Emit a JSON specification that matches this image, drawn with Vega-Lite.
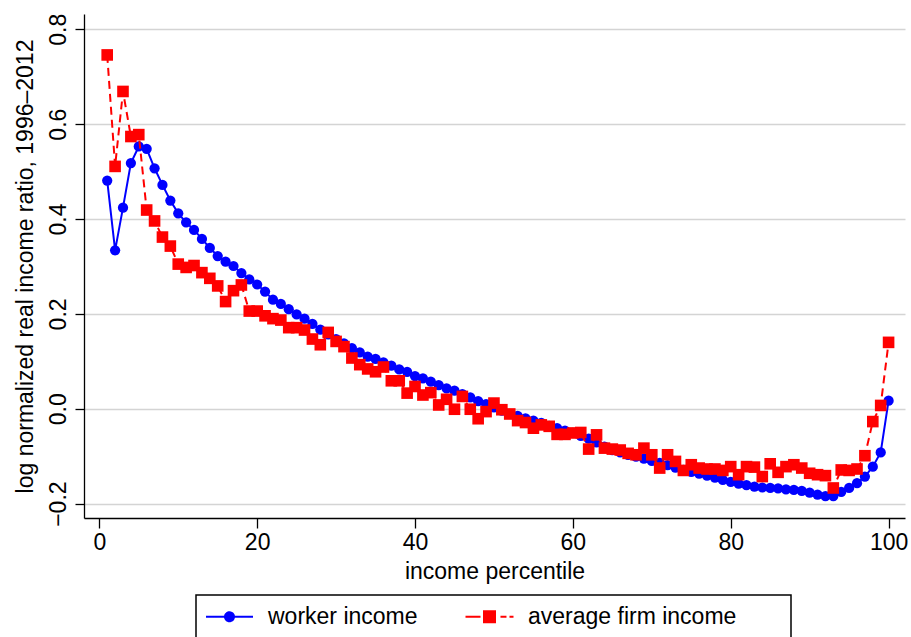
{
  "$schema": "https://vega.github.io/schema/vega-lite/v6.json",
  "width": 821,
  "height": 504,
  "autosize": {"type": "none"},
  "padding": {"left": 84, "top": 14, "right": 6, "bottom": 119},
  "background": "white",
  "config": {
    "font": "Liberation Sans",
    "view": {"stroke": null},
    "axis": {
      "domainColor": "black",
      "domainWidth": 1.3,
      "tickColor": "black",
      "tickWidth": 1.3,
      "labelFont": "Liberation Sans",
      "labelFontSize": 23,
      "labelColor": "black",
      "titleFont": "Liberation Sans",
      "titleFontSize": 23,
      "titleFontWeight": "normal",
      "titleColor": "black"
    }
  },
  "data": {
    "values": [
      {"percentile": 1, "series": "worker income", "value": 0.481},
      {"percentile": 2, "series": "worker income", "value": 0.334},
      {"percentile": 3, "series": "worker income", "value": 0.424},
      {"percentile": 4, "series": "worker income", "value": 0.518},
      {"percentile": 5, "series": "worker income", "value": 0.553},
      {"percentile": 6, "series": "worker income", "value": 0.548},
      {"percentile": 7, "series": "worker income", "value": 0.507},
      {"percentile": 8, "series": "worker income", "value": 0.472},
      {"percentile": 9, "series": "worker income", "value": 0.439},
      {"percentile": 10, "series": "worker income", "value": 0.412},
      {"percentile": 11, "series": "worker income", "value": 0.393},
      {"percentile": 12, "series": "worker income", "value": 0.377},
      {"percentile": 13, "series": "worker income", "value": 0.358},
      {"percentile": 14, "series": "worker income", "value": 0.339},
      {"percentile": 15, "series": "worker income", "value": 0.322},
      {"percentile": 16, "series": "worker income", "value": 0.310},
      {"percentile": 17, "series": "worker income", "value": 0.301},
      {"percentile": 18, "series": "worker income", "value": 0.286},
      {"percentile": 19, "series": "worker income", "value": 0.273},
      {"percentile": 20, "series": "worker income", "value": 0.262},
      {"percentile": 21, "series": "worker income", "value": 0.247},
      {"percentile": 22, "series": "worker income", "value": 0.230},
      {"percentile": 23, "series": "worker income", "value": 0.221},
      {"percentile": 24, "series": "worker income", "value": 0.210},
      {"percentile": 25, "series": "worker income", "value": 0.199},
      {"percentile": 26, "series": "worker income", "value": 0.190},
      {"percentile": 27, "series": "worker income", "value": 0.179},
      {"percentile": 28, "series": "worker income", "value": 0.167},
      {"percentile": 29, "series": "worker income", "value": 0.157},
      {"percentile": 30, "series": "worker income", "value": 0.147},
      {"percentile": 31, "series": "worker income", "value": 0.138},
      {"percentile": 32, "series": "worker income", "value": 0.128},
      {"percentile": 33, "series": "worker income", "value": 0.119},
      {"percentile": 34, "series": "worker income", "value": 0.110},
      {"percentile": 35, "series": "worker income", "value": 0.105},
      {"percentile": 36, "series": "worker income", "value": 0.098},
      {"percentile": 37, "series": "worker income", "value": 0.091},
      {"percentile": 38, "series": "worker income", "value": 0.083},
      {"percentile": 39, "series": "worker income", "value": 0.078},
      {"percentile": 40, "series": "worker income", "value": 0.069},
      {"percentile": 41, "series": "worker income", "value": 0.064},
      {"percentile": 42, "series": "worker income", "value": 0.057},
      {"percentile": 43, "series": "worker income", "value": 0.050},
      {"percentile": 44, "series": "worker income", "value": 0.043},
      {"percentile": 45, "series": "worker income", "value": 0.038},
      {"percentile": 46, "series": "worker income", "value": 0.031},
      {"percentile": 47, "series": "worker income", "value": 0.024},
      {"percentile": 48, "series": "worker income", "value": 0.016},
      {"percentile": 49, "series": "worker income", "value": 0.010},
      {"percentile": 50, "series": "worker income", "value": 0.003},
      {"percentile": 51, "series": "worker income", "value": -0.004},
      {"percentile": 52, "series": "worker income", "value": -0.011},
      {"percentile": 53, "series": "worker income", "value": -0.015},
      {"percentile": 54, "series": "worker income", "value": -0.020},
      {"percentile": 55, "series": "worker income", "value": -0.025},
      {"percentile": 56, "series": "worker income", "value": -0.030},
      {"percentile": 57, "series": "worker income", "value": -0.036},
      {"percentile": 58, "series": "worker income", "value": -0.041},
      {"percentile": 59, "series": "worker income", "value": -0.046},
      {"percentile": 60, "series": "worker income", "value": -0.051},
      {"percentile": 61, "series": "worker income", "value": -0.057},
      {"percentile": 62, "series": "worker income", "value": -0.063},
      {"percentile": 63, "series": "worker income", "value": -0.071},
      {"percentile": 64, "series": "worker income", "value": -0.080},
      {"percentile": 65, "series": "worker income", "value": -0.087},
      {"percentile": 66, "series": "worker income", "value": -0.092},
      {"percentile": 67, "series": "worker income", "value": -0.097},
      {"percentile": 68, "series": "worker income", "value": -0.101},
      {"percentile": 69, "series": "worker income", "value": -0.105},
      {"percentile": 70, "series": "worker income", "value": -0.110},
      {"percentile": 71, "series": "worker income", "value": -0.114},
      {"percentile": 72, "series": "worker income", "value": -0.119},
      {"percentile": 73, "series": "worker income", "value": -0.124},
      {"percentile": 74, "series": "worker income", "value": -0.129},
      {"percentile": 75, "series": "worker income", "value": -0.133},
      {"percentile": 76, "series": "worker income", "value": -0.137},
      {"percentile": 77, "series": "worker income", "value": -0.141},
      {"percentile": 78, "series": "worker income", "value": -0.145},
      {"percentile": 79, "series": "worker income", "value": -0.150},
      {"percentile": 80, "series": "worker income", "value": -0.154},
      {"percentile": 81, "series": "worker income", "value": -0.158},
      {"percentile": 82, "series": "worker income", "value": -0.161},
      {"percentile": 83, "series": "worker income", "value": -0.164},
      {"percentile": 84, "series": "worker income", "value": -0.166},
      {"percentile": 85, "series": "worker income", "value": -0.167},
      {"percentile": 86, "series": "worker income", "value": -0.168},
      {"percentile": 87, "series": "worker income", "value": -0.170},
      {"percentile": 88, "series": "worker income", "value": -0.171},
      {"percentile": 89, "series": "worker income", "value": -0.173},
      {"percentile": 90, "series": "worker income", "value": -0.177},
      {"percentile": 91, "series": "worker income", "value": -0.181},
      {"percentile": 92, "series": "worker income", "value": -0.184},
      {"percentile": 93, "series": "worker income", "value": -0.184},
      {"percentile": 94, "series": "worker income", "value": -0.175},
      {"percentile": 95, "series": "worker income", "value": -0.167},
      {"percentile": 96, "series": "worker income", "value": -0.157},
      {"percentile": 97, "series": "worker income", "value": -0.143},
      {"percentile": 98, "series": "worker income", "value": -0.122},
      {"percentile": 99, "series": "worker income", "value": -0.092},
      {"percentile": 100, "series": "worker income", "value": 0.017},
      {"percentile": 1, "series": "average firm income", "value": 0.746},
      {"percentile": 2, "series": "average firm income", "value": 0.511},
      {"percentile": 3, "series": "average firm income", "value": 0.669},
      {"percentile": 4, "series": "average firm income", "value": 0.574},
      {"percentile": 5, "series": "average firm income", "value": 0.578},
      {"percentile": 6, "series": "average firm income", "value": 0.419},
      {"percentile": 7, "series": "average firm income", "value": 0.396},
      {"percentile": 8, "series": "average firm income", "value": 0.362},
      {"percentile": 9, "series": "average firm income", "value": 0.343},
      {"percentile": 10, "series": "average firm income", "value": 0.305},
      {"percentile": 11, "series": "average firm income", "value": 0.298},
      {"percentile": 12, "series": "average firm income", "value": 0.302},
      {"percentile": 13, "series": "average firm income", "value": 0.287},
      {"percentile": 14, "series": "average firm income", "value": 0.275},
      {"percentile": 15, "series": "average firm income", "value": 0.259},
      {"percentile": 16, "series": "average firm income", "value": 0.226},
      {"percentile": 17, "series": "average firm income", "value": 0.249},
      {"percentile": 18, "series": "average firm income", "value": 0.261},
      {"percentile": 19, "series": "average firm income", "value": 0.206},
      {"percentile": 20, "series": "average firm income", "value": 0.206},
      {"percentile": 21, "series": "average firm income", "value": 0.196},
      {"percentile": 22, "series": "average firm income", "value": 0.190},
      {"percentile": 23, "series": "average firm income", "value": 0.187},
      {"percentile": 24, "series": "average firm income", "value": 0.171},
      {"percentile": 25, "series": "average firm income", "value": 0.171},
      {"percentile": 26, "series": "average firm income", "value": 0.166},
      {"percentile": 27, "series": "average firm income", "value": 0.147},
      {"percentile": 28, "series": "average firm income", "value": 0.135},
      {"percentile": 29, "series": "average firm income", "value": 0.161},
      {"percentile": 30, "series": "average firm income", "value": 0.142},
      {"percentile": 31, "series": "average firm income", "value": 0.131},
      {"percentile": 32, "series": "average firm income", "value": 0.107},
      {"percentile": 33, "series": "average firm income", "value": 0.093},
      {"percentile": 34, "series": "average firm income", "value": 0.084},
      {"percentile": 35, "series": "average firm income", "value": 0.078},
      {"percentile": 36, "series": "average firm income", "value": 0.088},
      {"percentile": 37, "series": "average firm income", "value": 0.059},
      {"percentile": 38, "series": "average firm income", "value": 0.059},
      {"percentile": 39, "series": "average firm income", "value": 0.033},
      {"percentile": 40, "series": "average firm income", "value": 0.047},
      {"percentile": 41, "series": "average firm income", "value": 0.029},
      {"percentile": 42, "series": "average firm income", "value": 0.034},
      {"percentile": 43, "series": "average firm income", "value": 0.008},
      {"percentile": 44, "series": "average firm income", "value": 0.020},
      {"percentile": 45, "series": "average firm income", "value": -0.001},
      {"percentile": 46, "series": "average firm income", "value": 0.026},
      {"percentile": 47, "series": "average firm income", "value": -0.001},
      {"percentile": 48, "series": "average firm income", "value": -0.021},
      {"percentile": 49, "series": "average firm income", "value": -0.006},
      {"percentile": 50, "series": "average firm income", "value": 0.012},
      {"percentile": 51, "series": "average firm income", "value": -0.002},
      {"percentile": 52, "series": "average firm income", "value": -0.011},
      {"percentile": 53, "series": "average firm income", "value": -0.025},
      {"percentile": 54, "series": "average firm income", "value": -0.029},
      {"percentile": 55, "series": "average firm income", "value": -0.041},
      {"percentile": 56, "series": "average firm income", "value": -0.034},
      {"percentile": 57, "series": "average firm income", "value": -0.037},
      {"percentile": 58, "series": "average firm income", "value": -0.054},
      {"percentile": 59, "series": "average firm income", "value": -0.054},
      {"percentile": 60, "series": "average firm income", "value": -0.051},
      {"percentile": 61, "series": "average firm income", "value": -0.050},
      {"percentile": 62, "series": "average firm income", "value": -0.085},
      {"percentile": 63, "series": "average firm income", "value": -0.055},
      {"percentile": 64, "series": "average firm income", "value": -0.083},
      {"percentile": 65, "series": "average firm income", "value": -0.085},
      {"percentile": 66, "series": "average firm income", "value": -0.087},
      {"percentile": 67, "series": "average firm income", "value": -0.094},
      {"percentile": 68, "series": "average firm income", "value": -0.097},
      {"percentile": 69, "series": "average firm income", "value": -0.083},
      {"percentile": 70, "series": "average firm income", "value": -0.097},
      {"percentile": 71, "series": "average firm income", "value": -0.125},
      {"percentile": 72, "series": "average firm income", "value": -0.097},
      {"percentile": 73, "series": "average firm income", "value": -0.111},
      {"percentile": 74, "series": "average firm income", "value": -0.130},
      {"percentile": 75, "series": "average firm income", "value": -0.118},
      {"percentile": 76, "series": "average firm income", "value": -0.125},
      {"percentile": 77, "series": "average firm income", "value": -0.127},
      {"percentile": 78, "series": "average firm income", "value": -0.127},
      {"percentile": 79, "series": "average firm income", "value": -0.130},
      {"percentile": 80, "series": "average firm income", "value": -0.122},
      {"percentile": 81, "series": "average firm income", "value": -0.139},
      {"percentile": 82, "series": "average firm income", "value": -0.122},
      {"percentile": 83, "series": "average firm income", "value": -0.123},
      {"percentile": 84, "series": "average firm income", "value": -0.143},
      {"percentile": 85, "series": "average firm income", "value": -0.116},
      {"percentile": 86, "series": "average firm income", "value": -0.134},
      {"percentile": 87, "series": "average firm income", "value": -0.122},
      {"percentile": 88, "series": "average firm income", "value": -0.118},
      {"percentile": 89, "series": "average firm income", "value": -0.125},
      {"percentile": 90, "series": "average firm income", "value": -0.136},
      {"percentile": 91, "series": "average firm income", "value": -0.139},
      {"percentile": 92, "series": "average firm income", "value": -0.141},
      {"percentile": 93, "series": "average firm income", "value": -0.167},
      {"percentile": 94, "series": "average firm income", "value": -0.129},
      {"percentile": 95, "series": "average firm income", "value": -0.130},
      {"percentile": 96, "series": "average firm income", "value": -0.127},
      {"percentile": 97, "series": "average firm income", "value": -0.099},
      {"percentile": 98, "series": "average firm income", "value": -0.027},
      {"percentile": 99, "series": "average firm income", "value": 0.007},
      {"percentile": 100, "series": "average firm income", "value": 0.140}
    ]
  },
  "encoding": {
    "x": {
      "field": "percentile",
      "type": "quantitative",
      "scale": {"domain": [-1.94, 102.08], "nice": false, "zero": false},
      "axis": {
        "title": "income percentile",
        "values": [0, 20, 40, 60, 80, 100],
        "grid": false,
        "tickSize": 10,
        "labelPadding": 3,
        "titlePadding": 6,
        "labelFlush": false,
        "labelOverlap": false
      }
    },
    "y": {
      "field": "value",
      "type": "quantitative",
      "scale": {"domain": [-0.2303, 0.8323], "nice": false, "zero": false},
      "axis": {
        "title": "log normalized real income ratio, 1996–2012",
        "values": [-0.2, 0, 0.2, 0.4, 0.6, 0.8],
        "format": ".1f",
        "grid": true,
        "gridColor": "#d4d4d4",
        "gridWidth": 1.5,
        "tickSize": 9,
        "labelAngle": 270,
        "labelAlign": "center",
        "labelBaseline": "alphabetic",
        "labelPadding": 10,
        "titlePadding": 10,
        "labelFlush": false,
        "labelOverlap": false
      }
    },
    "color": {
      "field": "series",
      "type": "nominal",
      "scale": {
        "domain": ["worker income", "average firm income"],
        "range": ["#0000ff", "#ff0000"]
      },
      "legend": {
        "title": " ",
        "titleOrient": "right",
        "titlePadding": 45,
        "titleFontSize": 23,
        "orient": "none",
        "legendX": 112,
        "legendY": 581,
        "direction": "horizontal",
        "padding": 10,
        "strokeColor": "black",
        "labelFont": "Liberation Sans",
        "labelFontSize": 23,
        "labelColor": "black",
        "labelLimit": 500,
        "labelOffset": 27,
        "symbolOffset": 12,
        "symbolSize": 144,
        "symbolStrokeWidth": 2,
        "columnPadding": 43,
        "encode": {
          "legend": {"update": {"strokeWidth": {"value": 1.5}}},
          "symbols": {
            "update": {
              "shape": {"signal": "datum.value === 'worker income' ? 'M-3.92,0H3.92M-0.75,0A0.75,0.75,0,1,1,0.75,0A0.75,0.75,0,1,1,-0.75,0Z' : 'M-4,0H-1.5M-0.92,-0.92H0.92V0.92H-0.92ZM1.83,0H2.83M3.33,0H4'"},
              "fill": {"signal": "datum.value === 'worker income' ? '#0000ff' : '#ff0000'"},
              "stroke": {"signal": "datum.value === 'worker income' ? '#0000ff' : '#ff0000'"},
              "strokeWidth": {"value": 2},
              "strokeDash": {"value": [1, 0]},
              "opacity": {"value": 1},
              "fillOpacity": {"value": 1},
              "strokeOpacity": {"value": 1},
              "size": {"value": 144}
            }
          }
        }
      }
    }
  },
  "layer": [
    {
      "transform": [{"filter": "datum.series === 'worker income'"}],
      "mark": {"type": "line", "strokeWidth": 2}
    },
    {
      "transform": [{"filter": "datum.series === 'worker income'"}],
      "mark": {"type": "point", "filled": true, "shape": "circle", "size": 105, "opacity": 1}
    },
    {
      "transform": [{"filter": "datum.series === 'average firm income'"}],
      "mark": {"type": "line", "strokeWidth": 2, "strokeDash": [8, 5]}
    },
    {
      "transform": [{"filter": "datum.series === 'average firm income'"}],
      "mark": {"type": "point", "filled": true, "shape": "square", "size": 135, "opacity": 1}
    }
  ]
}
